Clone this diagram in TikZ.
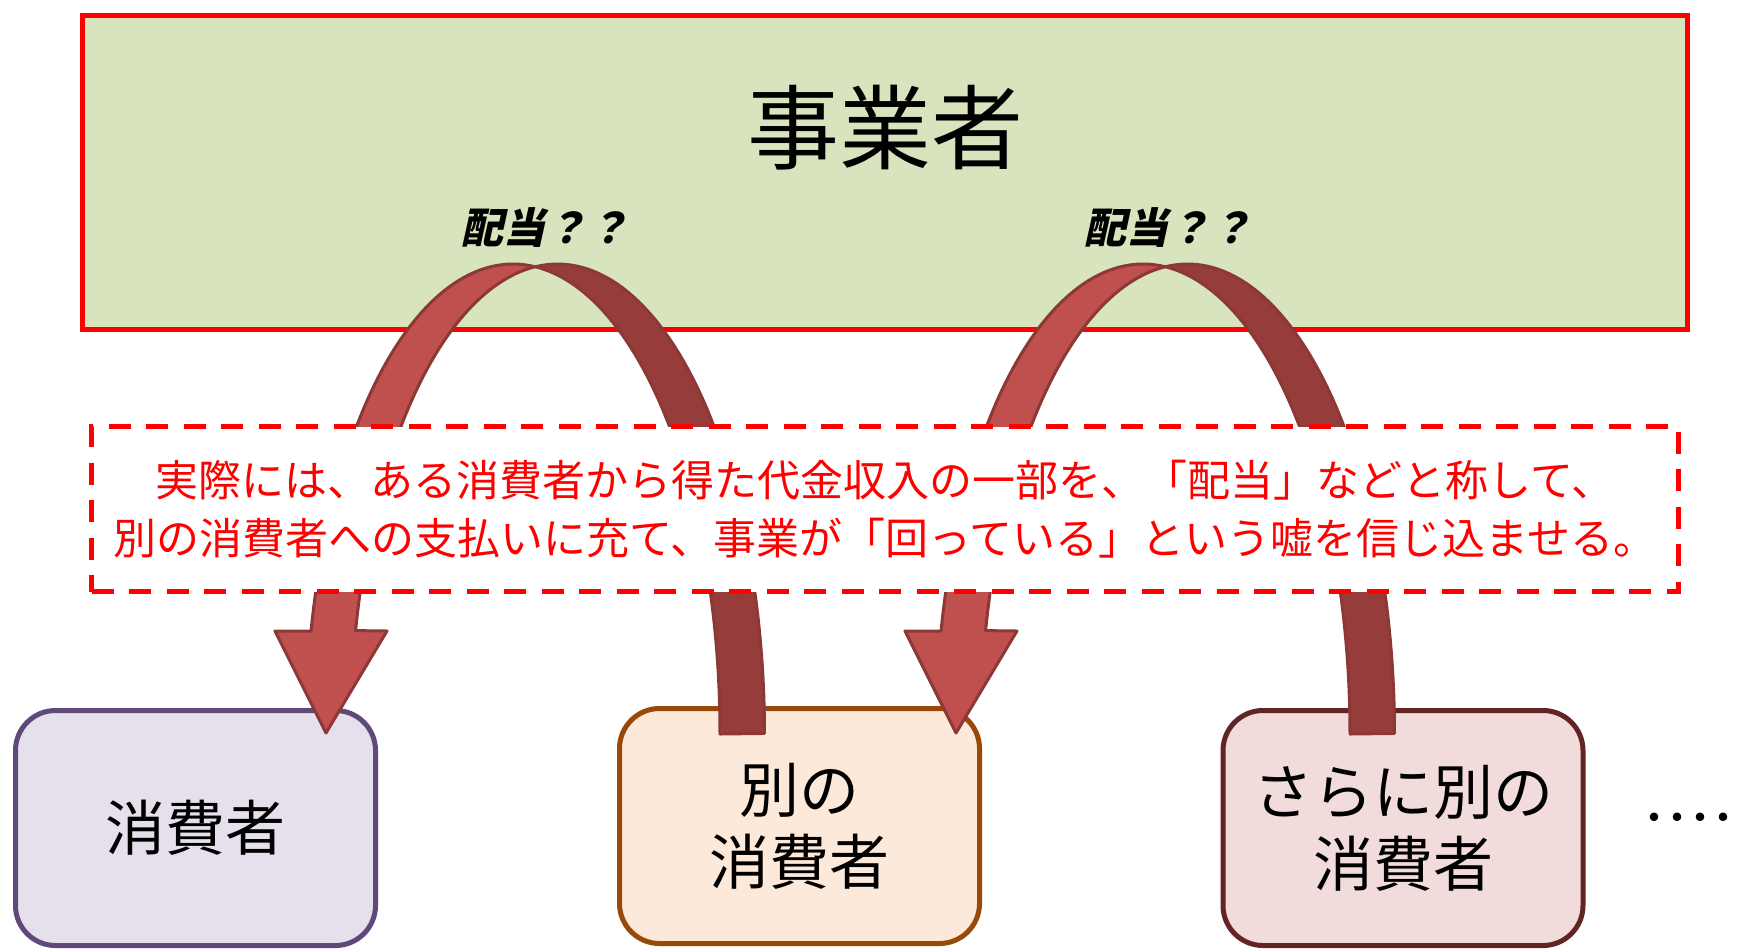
\documentclass[tikz,border=0pt]{standalone}
\usepackage{fontspec}
\setmainfont{Noto Sans CJK JP}
\newfontfamily\lblfont[FakeSlant=0.22, BoldFeatures={FakeSlant=0.22}]{Noto Sans CJK JP}
\definecolor{topfill}{HTML}{D7E4BD}
\definecolor{redline}{HTML}{FF0000}
\definecolor{aLight}{HTML}{C0504D}
\definecolor{aDark}{HTML}{963D3B}
\definecolor{aEdge}{HTML}{8C3836}
\definecolor{b1fill}{HTML}{E5E0EC}
\definecolor{b1line}{HTML}{5F497A}
\definecolor{b2fill}{HTML}{FDE9D9}
\definecolor{b2line}{HTML}{984807}
\definecolor{b3fill}{HTML}{F2DCDB}
\definecolor{b3line}{HTML}{632523}
\tikzset{
  topbox/.style={draw=redline, fill=topfill, line width=5pt, minimum width=1605pt, minimum height=314pt, inner sep=0pt},
  cbox/.style={line width=5pt, rounded corners=40pt, minimum width=360pt, minimum height=235pt, inner sep=0pt, align=center, font=\fontsize{60}{72}\selectfont},
  notebox/.style={draw=redline, fill=white, line width=4.5pt, dash pattern=on 22pt off 15.5pt, minimum width=1587pt, minimum height=165pt, inner sep=0pt, align=center, text=redline, font=\fontsize{43}{57.7}\selectfont},
  lbl/.style={font=\lblfont\bfseries\fontsize{42}{42}\selectfont},
  frontband/.style={fill=aLight, draw=aEdge, line width=3pt, line join=round},
  backband/.style={fill=aDark, draw=aEdge, line width=3pt, line join=round}
}
\newcommand{\archpair}[1]{%
  % back (dark) band
  \path[backband]
    plot[domain=0:1, samples=60, variable=\t] ({#1+557.5+207*cos(263.83+\t*96.17)},{734+470*sin(263.83+\t*96.17)})
    -- plot[domain=0:1, samples=60, variable=\t] ({#1+513+207*cos(360-\t*83.83)},{734+470*sin(360-\t*83.83)})
    -- cycle;
  % front (light) band with arrowhead
  \path[frontband]
    plot[domain=0:1, samples=60, variable=\t] ({#1+513+207*cos(192.66+\t*83.51)},{734+470*sin(192.66+\t*83.51)})
    -- plot[domain=0:1, samples=60, variable=\t] ({#1+557.5+207*cos(263.83-\t*71.17)},{734+470*sin(263.83-\t*71.17)})
    -- (#1+387,631) -- (#1+326,733) -- (#1+275,631) -- cycle;
}
\begin{document}
\begin{tikzpicture}[x=1pt,y=-1pt]
\useasboundingbox (0,0) rectangle (1740,951);
\fill[white] (0,0) rectangle (1740,951);
% top box
\node[topbox] (top) at (885,172.5) {};
\node[font=\fontsize{92}{110}\selectfont] (title) at (885,128) {事業者};
\node[lbl] (lblA) at (545,228) {配当？？};
\node[lbl] (lblB) at (1168,228) {配当？？};
% consumer boxes
\node[cbox, fill=b1fill, draw=b1line] (c1) at (195.5,828) {消費者};
\node[cbox, fill=b2fill, draw=b2line] (c2) at (799.5,826) {別の\\消費者};
\node[cbox, fill=b3fill, draw=b3line] (c3) at (1403,828) {さらに別の\\消費者};
\node[anchor=west, inner sep=0pt, font=\fontsize{40}{40}\selectfont] (dots) at (1634,823) {・\kern-17pt・\kern-17pt・\kern-17pt・\kern-12pt};
% arches
\archpair{0}
\archpair{630}
% note box
\node[notebox] (note) at (885,509) {実際には、ある消費者から得た代金収入の一部を、「配当」などと称して、\\別の消費者への支払いに充て、事業が「回っている」という嘘を信じ込ませる。};
\end{tikzpicture}
\end{document}
